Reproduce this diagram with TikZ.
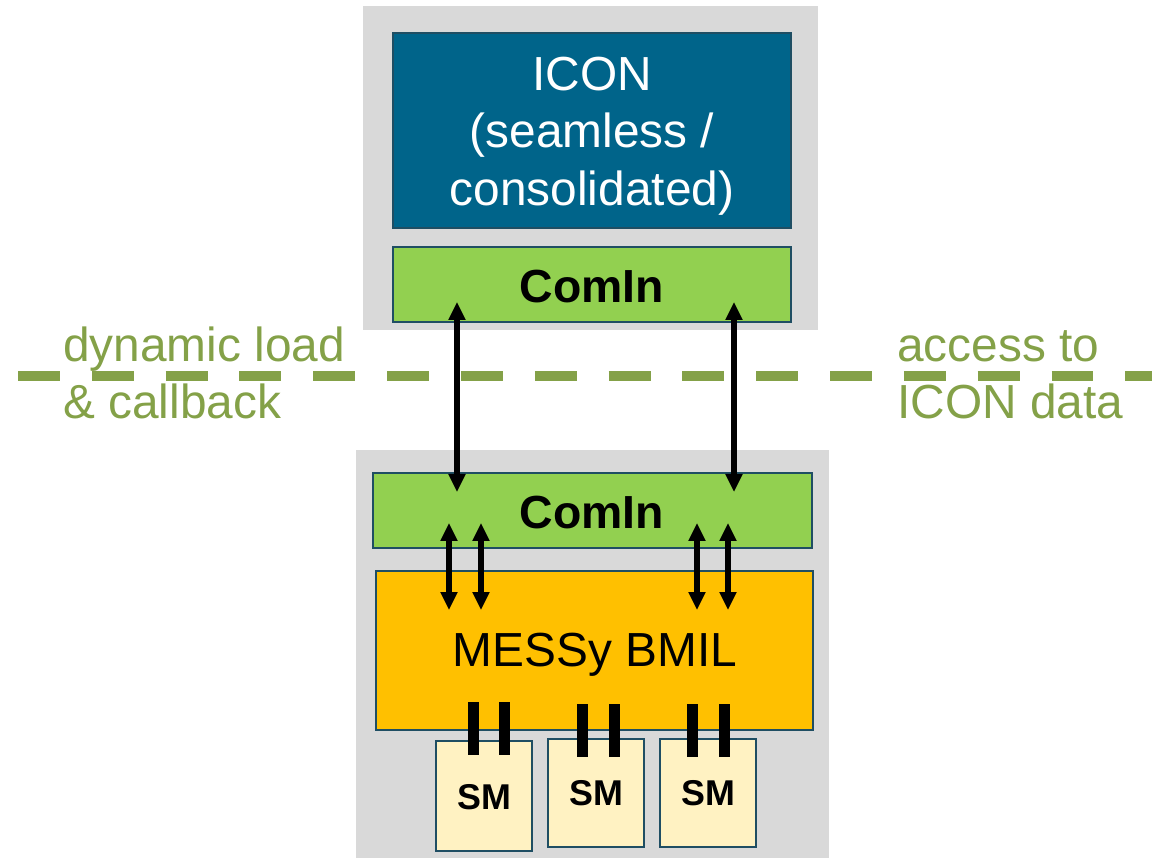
\documentclass[tikz,border=0pt]{standalone}
\usepackage{fontspec}
\setmainfont{Liberation Sans}
\usetikzlibrary{arrows.meta,fit}
\definecolor{bggray}{RGB}{217,217,217}
\definecolor{iconblue}{RGB}{0,100,138}
\definecolor{cominGreen}{RGB}{146,208,80}
\definecolor{messyGold}{RGB}{255,192,0}
\definecolor{smYellow}{RGB}{255,242,194}
\definecolor{edgeTeal}{RGB}{31,78,99}
\definecolor{oliveTxt}{RGB}{132,161,72}
\begin{document}
\begin{tikzpicture}[x=0.025cm,y=-0.025cm,
  panel/.style={fill=bggray,draw=none,inner sep=0pt},
  box/.style={draw=edgeTeal,line width=1.3pt,inner sep=0pt,align=center},
  dbl/.style={{Triangle[length=12.8pt,width=11.5pt]}-{Triangle[length=12.8pt,width=11.5pt]},line width=4.2pt},
  bar/.style={fill=black},
  lbl/.style={text=oliveTxt,font=\fontsize{34}{41}\selectfont,inner sep=0pt,anchor=base west}]
\useasboundingbox (0,0) rectangle (1152,859);
% panels
\node[panel,fit={(363,6) (818,330)}] (toppanel) {};
\node[panel,fit={(356,450) (829,858)}] (botpanel) {};
% dashed line
\coordinate (dl) at (18,376);
\coordinate (dr) at (1152,376);
\draw[oliveTxt,line width=7.5pt,dash pattern=on 29.8pt off 22.7pt] (dl) -- (dr);
% labels
\node[lbl] (dyn) at (63,362) {dynamic load};
\node[lbl] (cb) at (63,419) {\& callback};
\node[lbl] (acc) at (897,362) {access to};
\node[lbl] (icd) at (897,419) {ICON data};
% top boxes
\node[box,fill=iconblue,fit={(393,33) (791,228)}] (icon) {};
\node[text=white,font=\fontsize{34}{41}\selectfont,align=center,inner sep=0pt] (icontxt) at (592,136) {ICON\\(seamless /\\consolidated)};
\node[box,fill=cominGreen,fit={(393,247) (791,322)}] (comintop) {};
\node[font=\fontsize{33}{40}\selectfont\bfseries,inner sep=0pt] (comintoptxt) at (592,287) {ComIn};
% bottom boxes
\node[box,fill=cominGreen,fit={(373,473) (812,548)}] (cominbot) {};
\node[font=\fontsize{33}{40}\selectfont\bfseries,inner sep=0pt] (cominbottxt) at (592,513) {ComIn};
\node[box,fill=messyGold,fit={(376,571) (813,730)}] (messy) {};
\node[font=\fontsize{34}{41}\selectfont,inner sep=0pt] (messytxt) at (595,655) {MESSy BMIL};
% SM boxes
\node[box,fill=smYellow,fit={(436,741) (532,851)}] (sm1) {};
\node[box,fill=smYellow,fit={(548,739) (644,847)}] (sm2) {};
\node[box,fill=smYellow,fit={(660,739) (756,847)}] (sm3) {};
\node[font=\fontsize{25.5}{30}\selectfont\bfseries,inner sep=0pt] (sm1t) at (484,797) {SM};
\node[font=\fontsize{25.5}{30}\selectfont\bfseries,inner sep=0pt] (sm2t) at (596,793) {SM};
\node[font=\fontsize{25.5}{30}\selectfont\bfseries,inner sep=0pt] (sm3t) at (708,793) {SM};
% bars
\foreach \x/\ya/\yb in {473/702/755,504/702/755,582/704/757,614/704/757,692/704/757,724/704/757}
  \fill[bar] (\x-5.5,\ya) rectangle (\x+5.5,\yb);
% long arrows
\coordinate (a1t) at (457,302); \coordinate (a1b) at (457,492);
\coordinate (a2t) at (734,302); \coordinate (a2b) at (734,492);
\draw[dbl] (a1t) -- (a1b);
\draw[dbl] (a2t) -- (a2b);
% short arrows
\foreach \x [count=\i] in {449,481,697,728}{
  \coordinate (s\i t) at (\x,523); \coordinate (s\i b) at (\x,610);
  \draw[dbl] (s\i t) -- (s\i b);
}
\end{tikzpicture}
\end{document}
